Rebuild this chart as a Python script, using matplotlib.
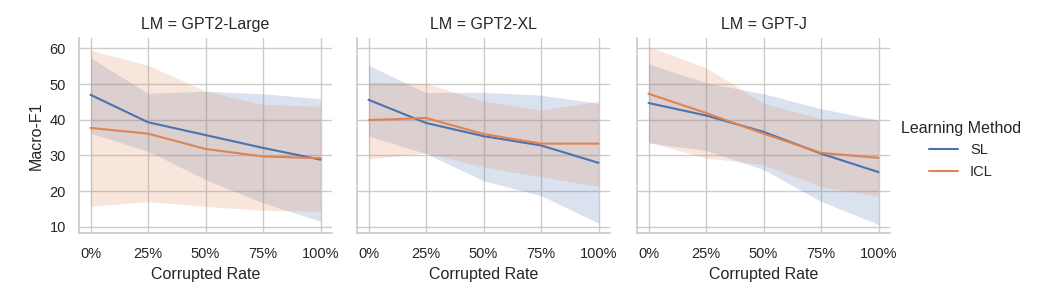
import matplotlib
matplotlib.use("Agg")
import matplotlib.pyplot as plt
import seaborn as sns

sns.set_theme(style="whitegrid")
plt.rcParams["font.family"] = ["Liberation Sans", "DejaVu Sans"]

# corrupted rate (%) and panels
rates = [0, 25, 50, 75, 100]
rate_labels = ["0%", "25%", "50%", "75%", "100%"]
lms = ["GPT2-Large", "GPT2-XL", "GPT-J"]

# mean Macro-F1 per LM
sl_mean = {
    "GPT2-Large": [47.0, 39.3, 35.7, 32.1, 28.8],
    "GPT2-XL": [45.6, 39.1, 35.4, 32.8, 27.9],
    "GPT-J": [44.7, 41.2, 36.6, 30.5, 25.3],
}
icl_mean = {
    "GPT2-Large": [37.7, 36.1, 31.8, 29.7, 29.2],
    "GPT2-XL": [39.9, 40.5, 36.0, 33.3, 33.3],
    "GPT-J": [47.3, 41.9, 36.1, 30.7, 29.3],
}

# band edges
sl_low = {
    "GPT2-Large": [36.2, 31.2, 23.2, 16.7, 11.5],
    "GPT2-XL": [35.4, 30.5, 22.9, 18.7, 11.0],
    "GPT-J": [33.5, 31.4, 26.0, 17.1, 10.6],
}
sl_high = {
    "GPT2-Large": [57.4, 47.4, 48.0, 47.3, 45.9],
    "GPT2-XL": [55.3, 47.6, 47.7, 46.9, 44.6],
    "GPT-J": [55.7, 50.4, 47.3, 43.1, 39.9],
}
icl_low = {
    "GPT2-Large": [15.7, 17.0, 15.7, 14.6, 14.3],
    "GPT2-XL": [29.0, 30.7, 26.7, 24.0, 21.3],
    "GPT-J": [33.7, 29.3, 27.4, 21.2, 18.5],
}
icl_high = {
    "GPT2-Large": [59.5, 55.3, 48.0, 44.3, 43.8],
    "GPT2-XL": [50.5, 50.2, 45.2, 42.7, 45.2],
    "GPT-J": [60.5, 54.6, 44.6, 40.3, 39.9],
}

blue = "#4C72B0"
orange = "#DD8452"

fig = plt.figure(figsize=(10.37, 3), dpi=100)
lefts = [79, 357, 637]
axes = []
for i, lm in enumerate(lms):
    if i == 0:
        ax = fig.add_axes([lefts[i] / 1037, 0.222, 253 / 1037, 0.652])
    else:
        ax = fig.add_axes([lefts[i] / 1037, 0.222, 253 / 1037, 0.652], sharey=axes[0])
    axes.append(ax)

    ax.fill_between(rates, sl_low[lm], sl_high[lm], color=blue, alpha=0.2, linewidth=0)
    ax.fill_between(rates, icl_low[lm], icl_high[lm], color=orange, alpha=0.2, linewidth=0)
    ax.plot(rates, sl_mean[lm], color=blue, lw=1.5, label="SL")
    ax.plot(rates, icl_mean[lm], color=orange, lw=1.5, label="ICL")

    ax.set_xticks(rates)
    ax.set_xticklabels(rate_labels)
    ax.set_yticks([10, 20, 30, 40, 50, 60])
    ax.set_xlabel("Corrupted Rate", fontsize=11.5, labelpad=4.5)
    ax.set_title("LM = " + lm, fontsize=11.5)
    ax.tick_params(labelsize=10.5)
    sns.despine(ax=ax)
    if i == 0:
        ax.set_ylabel("Macro-F1", fontsize=11.5)
    else:
        ax.tick_params(labelleft=False)

handles, labels = axes[0].get_legend_handles_labels()
fig.legend(handles, labels, title="Learning Method", loc="center left",
           bbox_to_anchor=(0.856, 0.5), frameon=False, fontsize=10.5,
           title_fontsize=11.5)

fig.savefig("out.png", dpi=100)
